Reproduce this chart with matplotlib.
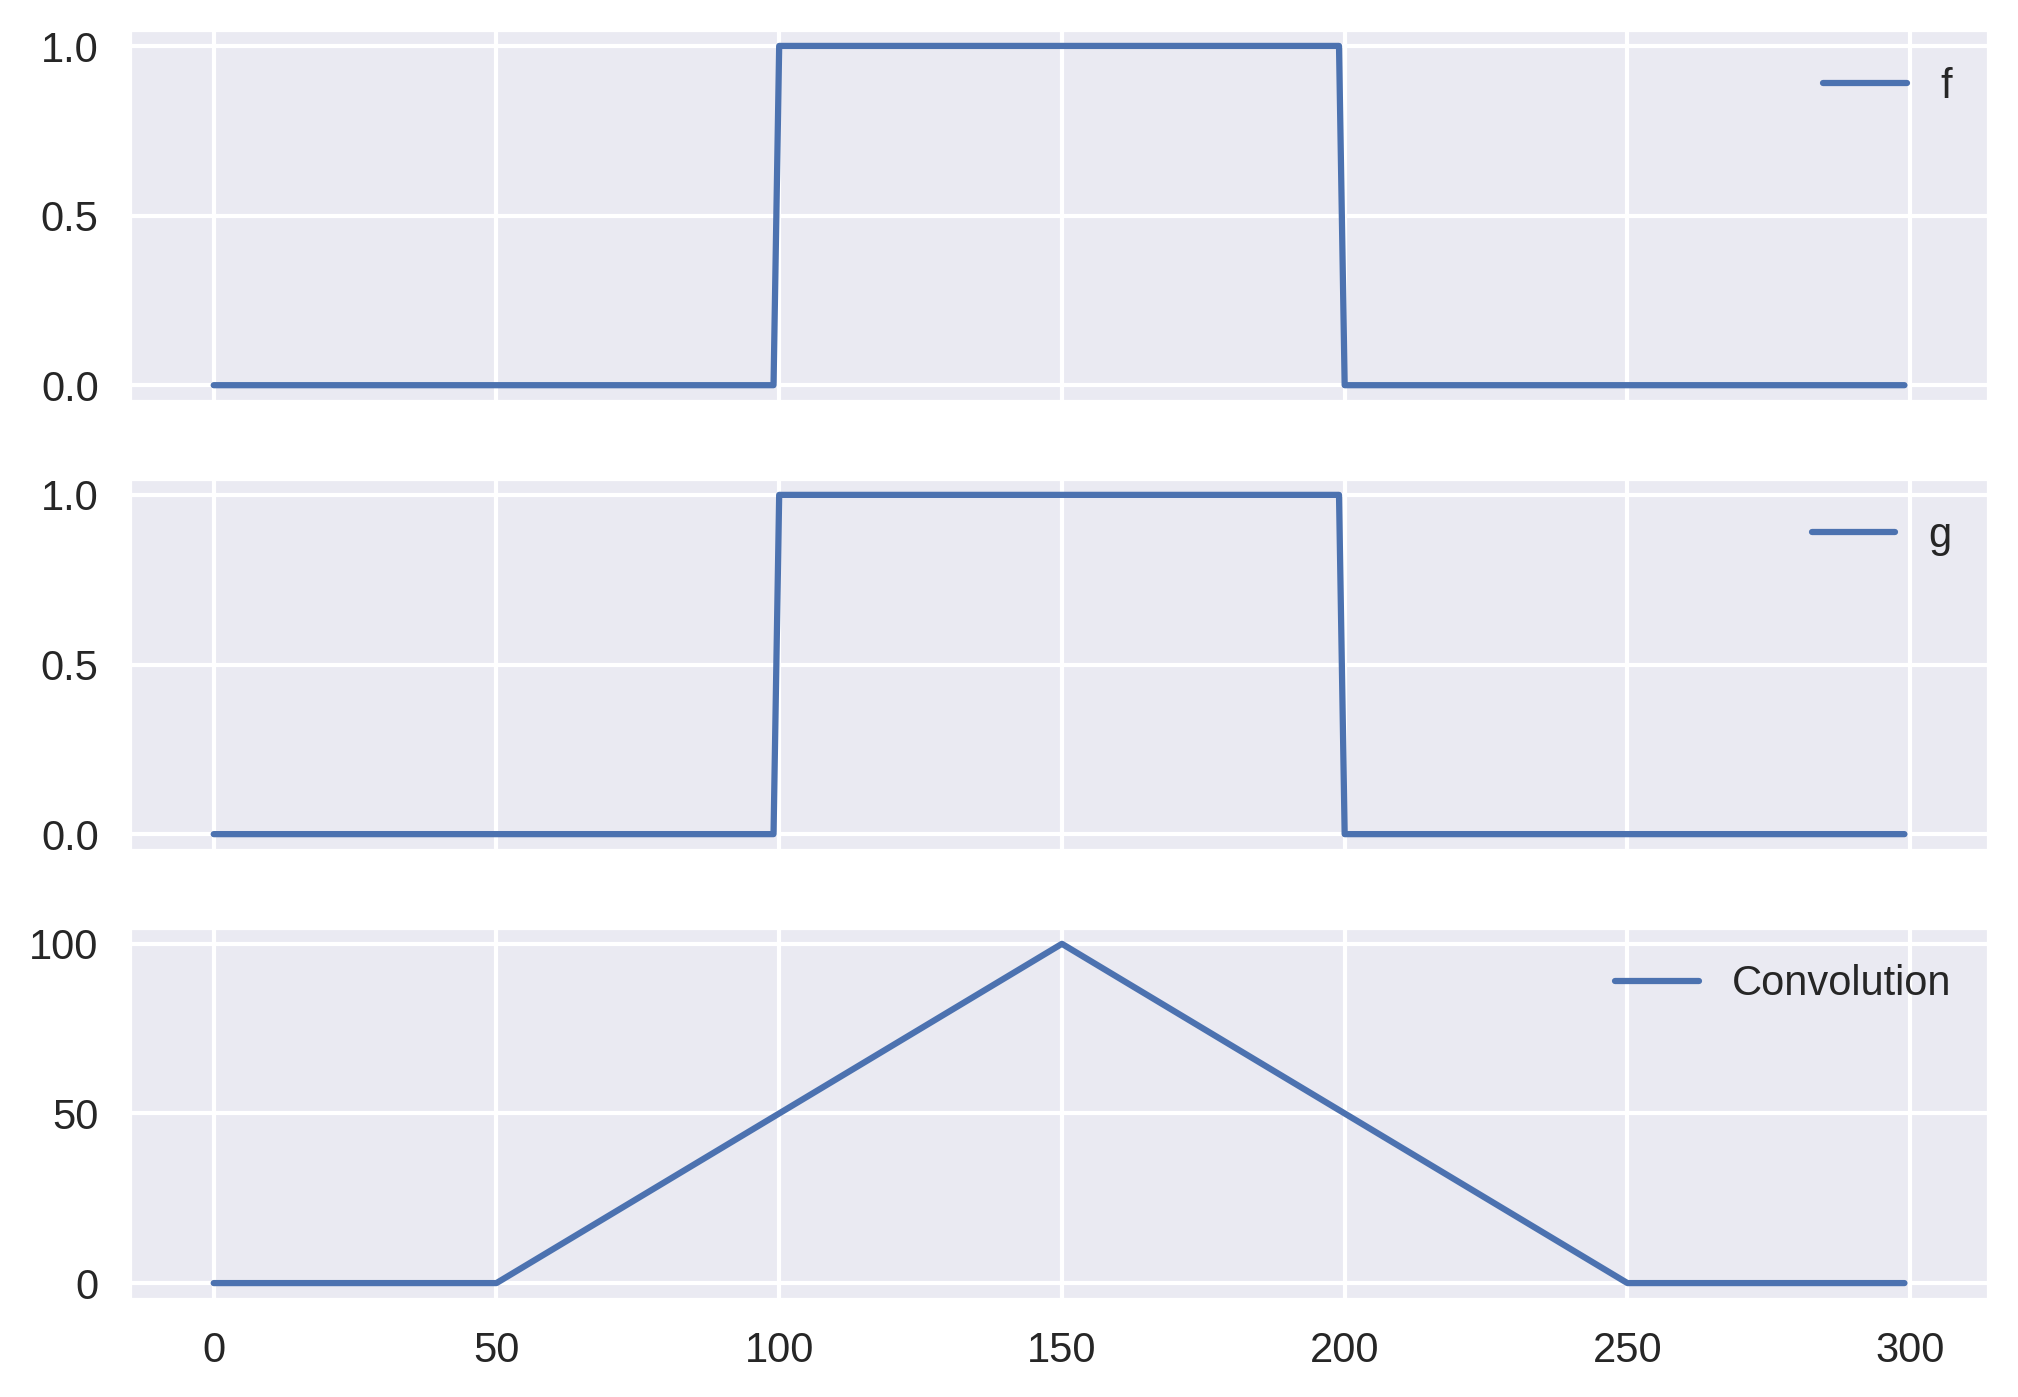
import matplotlib
matplotlib.use("Agg")
import matplotlib.pyplot as plt
import seaborn as sns

sns.set_theme(style="darkgrid")
plt.rcParams['font.family'] = ['Arial', 'Liberation Sans', 'DejaVu Sans']
plt.rcParams['xtick.labelsize'] = 10
plt.rcParams['ytick.labelsize'] = 10
plt.rcParams['legend.fontsize'] = 10
plt.rcParams['xtick.major.size'] = 0
plt.rcParams['ytick.major.size'] = 0
plt.rcParams['xtick.major.pad'] = 7.3
plt.rcParams['ytick.major.pad'] = 7.3

# 折点
f_x = [0, 99, 100, 199, 200, 299]
f_y = [0, 0, 1, 1, 0, 0]
g_x = [0, 99, 100, 199, 200, 299]
g_y = [0, 0, 1, 1, 0, 0]
conv_x = [0, 50, 150, 250, 299]
conv_y = [0, 0, 100, 0, 0]

fig, axes = plt.subplots(3, 1, sharex=True, figsize=(6.727, 4.657), dpi=300)
fig.subplots_adjust(left=0.064, right=0.9856, top=0.9792, bottom=0.0694, hspace=0.203)

axes[0].plot(f_x, f_y, label="f")
axes[1].plot(g_x, g_y, label="g")
axes[2].plot(conv_x, conv_y, label="Convolution")

for ax in axes:
    ax.legend(loc="upper right", frameon=False)

fig.savefig("out.png", dpi=300)
